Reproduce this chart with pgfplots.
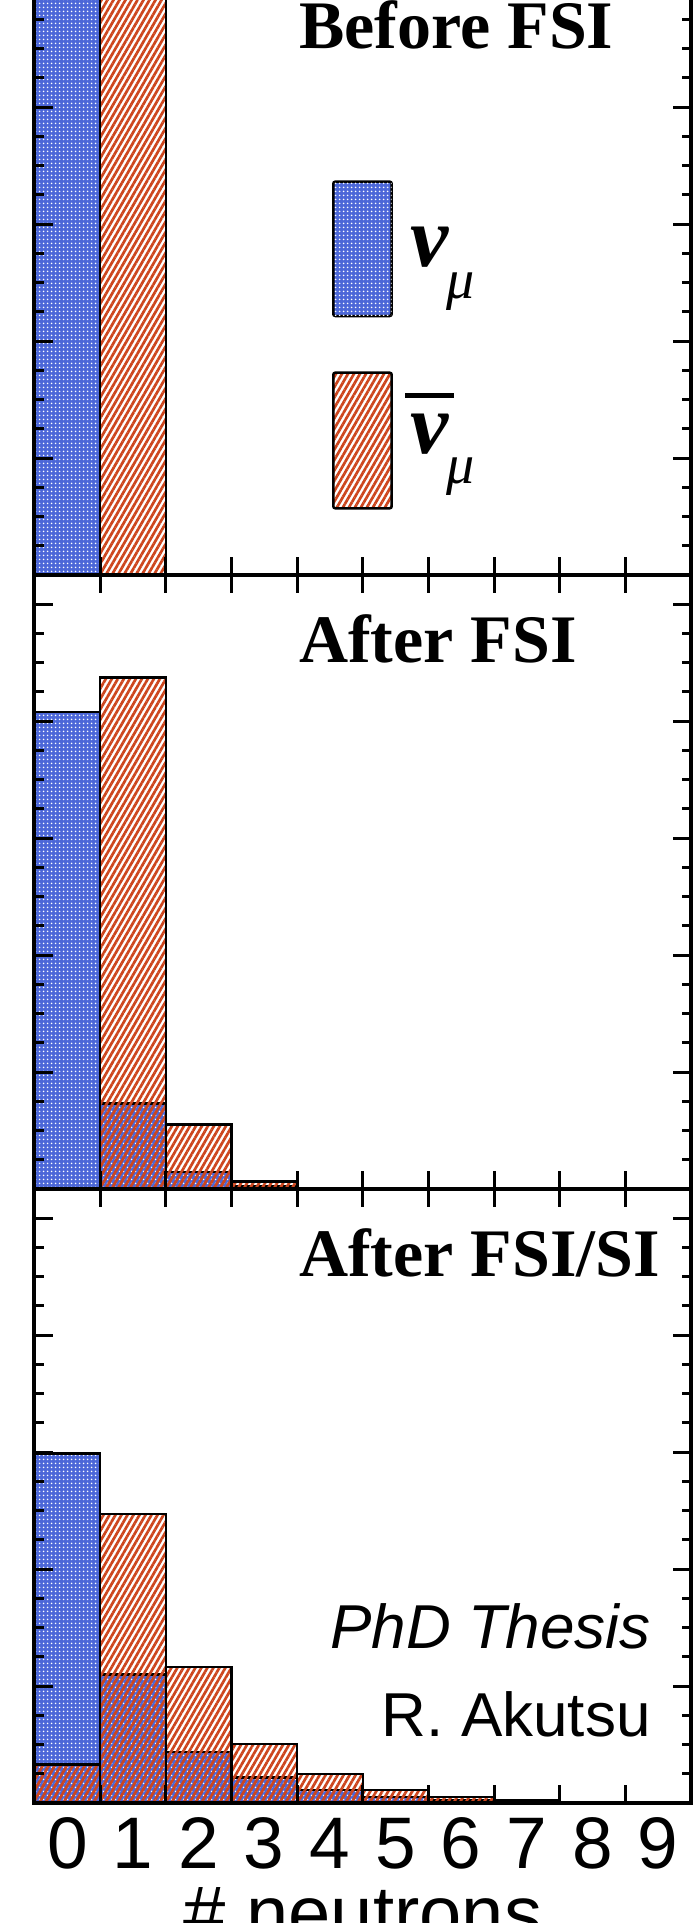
\documentclass[border=0pt]{standalone}
\usepackage{pgfplots}
\pgfplotsset{compat=1.18}
\usetikzlibrary{patterns.meta}
\usepackage{fontspec}
\setmainfont{Liberation Sans}
\newfontfamily\timesfont{Liberation Serif}
\definecolor{nublue}{RGB}{25,60,205}
\definecolor{nured}{RGB}{205,70,30}
\tikzset{
  bluefill/.style={fill=nublue!78!white, postaction={pattern={Dots[radius=1.1pt,distance=4pt]}, pattern color=white}},
  redfill/.style={pattern={Lines[angle=60,distance=5.2pt,line width=2.7pt]}, pattern color=nured},
  ttl/.style={anchor=base west, inner sep=0pt, font=\timesfont\bfseries\fontsize{68}{68}\selectfont},
  grk/.style={anchor=base west, inner sep=0pt, font=\timesfont\bfseries\itshape\fontsize{86}{86}\selectfont},
  sub/.style={anchor=base west, inner sep=0pt, font=\timesfont\itshape\fontsize{56}{56}\selectfont},
}
\pgfplotsset{
  panel/.style={
    scale only axis, width=656.5pt, height=614pt,
    xmin=0, xmax=10, ymin=0, ymax=1.05,
    xtick={0,1,2,3,4,5,6,7,8,9,10},
    ytick={0,0.2,0.4,0.6,0.8,1},
    yticklabel=\empty,
    minor y tick num=3,
    major tick length=18pt, minor tick length=9pt,
    tick style={black, line width=3pt},
    axis line style={line width=4pt},
    axis on top,
  },
  hist/.style={ybar interval, draw=black, line width=2.5pt},
}
\begin{document}
\begin{tikzpicture}
% ---------------- bottom panel: After FSI/SI
\begin{axis}[panel, at={(0pt,0pt)}, anchor=south west,
  x tick label as interval, xticklabels={0,1,2,3,4,5,6,7,8,9},
  xticklabel style={font=\fontsize{73}{73}\selectfont, inner sep=0pt, outer sep=0pt, yshift=-15pt},
  xlabel={\# neutrons},
  xlabel style={at={(axis description cs:0.5,0)}, anchor=north, yshift=-84pt, inner sep=0pt, font=\fontsize{76}{76}\selectfont},
]
\addplot[hist, bluefill] coordinates {(0,0.598) (1,0.220) (2,0.087) (3,0.044) (4,0.022) (5,0.010) (6,0.005) (7,0.002) (8,0.001) (9,0) (10,0)};
\addplot[hist, redfill] coordinates {(0,0.066) (1,0.494) (2,0.233) (3,0.101) (4,0.050) (5,0.022) (6,0.010) (7,0.005) (8,0.002) (9,0) (10,0)};
\node[ttl] at (rel axis cs:0.4029,0.8567) {After FSI/SI};
\node[anchor=base east, inner sep=0pt, font=\itshape\fontsize{62}{62}\selectfont] at (rel axis cs:0.939,0.2524) {PhD Thesis};
\node[anchor=base east, inner sep=0pt, font=\fontsize{62}{62}\selectfont] at (rel axis cs:0.939,0.1075) {R. Akutsu};
\end{axis}
% ---------------- middle panel: After FSI
\begin{axis}[panel, at={(0pt,614pt)}, anchor=south west, xticklabel=\empty]
\addplot[hist, bluefill] coordinates {(0,0.816) (1,0.146) (2,0.029) (3,0.004) (4,0) (5,0) (6,0) (7,0) (8,0) (9,0) (10,0)};
\addplot[hist, redfill] coordinates {(0,0) (1,0.875) (2,0.110) (3,0.013) (4,0.001) (5,0) (6,0) (7,0) (8,0) (9,0) (10,0)};
\node[ttl] at (rel axis cs:0.4029,0.8567) {After FSI};
\end{axis}
% ---------------- top panel: Before FSI
\begin{axis}[panel, at={(0pt,1228pt)}, anchor=south west, xticklabel=\empty]
\addplot[hist, bluefill] coordinates {(0,1.0) (1,0) (2,0) (3,0) (4,0) (5,0) (6,0) (7,0) (8,0) (9,0) (10,0)};
\addplot[hist, redfill] coordinates {(0,0) (1,1.0) (2,0) (3,0) (4,0) (5,0) (6,0) (7,0) (8,0) (9,0) (10,0)};
\node[ttl] at (rel axis cs:0.4029,0.8570) {Before FSI};
% legend
\draw[line width=2.5pt, rounded corners=2pt, bluefill] (rel axis cs:0.4551,0.4218) rectangle (rel axis cs:0.5441,0.6406);
\draw[line width=2.5pt, rounded corners=2pt, redfill] (rel axis cs:0.4551,0.1086) rectangle (rel axis cs:0.5441,0.3295);
\node[grk] at (rel axis cs:0.5727,0.5021) {ν};
\node[sub] at (rel axis cs:0.6276,0.4511) {μ};
\node[grk] at (rel axis cs:0.5727,0.1982) {ν};
\node[sub] at (rel axis cs:0.6276,0.1498) {μ};
\draw[line width=5pt] (rel axis cs:0.5644,0.2923) -- (rel axis cs:0.639,0.2923);
\end{axis}
\pgfresetboundingbox
\useasboundingbox (-34.5pt,-120pt) rectangle (665.5pt,1803pt);
\end{tikzpicture}
\end{document}
